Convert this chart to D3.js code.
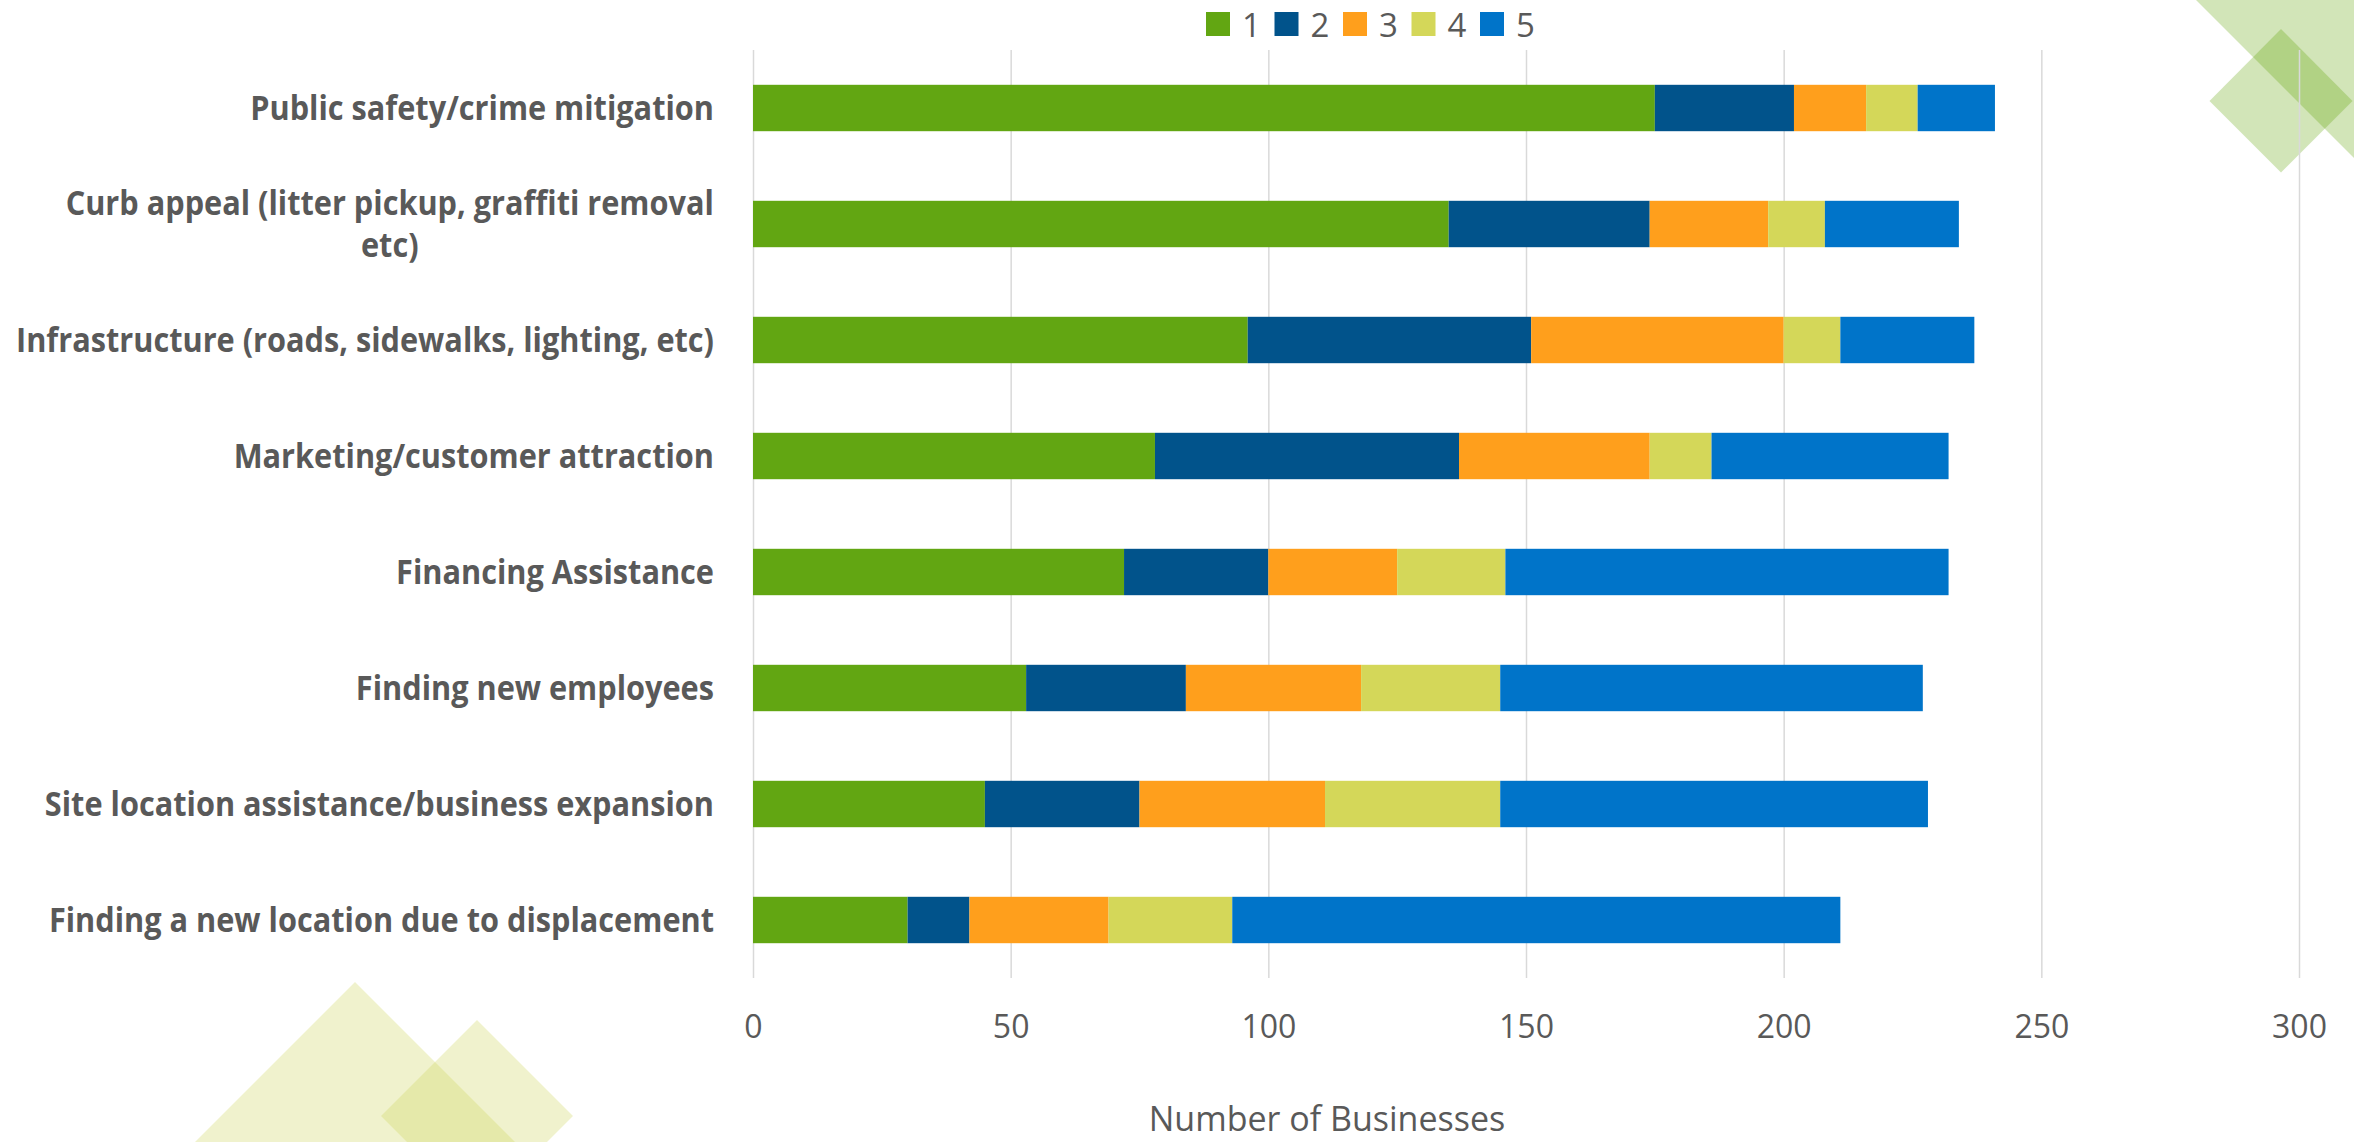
<!DOCTYPE html>
<html>
<head>
<meta charset="utf-8">
<script src="https://cdn.jsdelivr.net/npm/d3@7"></script>
<style>
  html, body { margin: 0; padding: 0; background: #ffffff; }
  svg { display: block; }
  text { font-family: "Open Sans", "Noto Sans", sans-serif; fill: #595959; }
</style>
</head>
<body>
<svg id="chart" width="2354" height="1142"></svg>
<script>
// ---- data ----
const categories = [
  "Public safety/crime mitigation",
  "Curb appeal (litter pickup, graffiti removal etc)",
  "Infrastructure (roads, sidewalks, lighting, etc)",
  "Marketing/customer attraction",
  "Financing Assistance",
  "Finding new employees",
  "Site location assistance/business expansion",
  "Finding a new location due to displacement"
];
const seriesNames = ["1", "2", "3", "4", "5"];
const rank1 = [175, 135, 96, 78, 72, 53, 45, 30];
const rank2 = [27, 39, 55, 59, 28, 31, 30, 12];
const rank3 = [14, 23, 49, 37, 25, 34, 36, 27];
const rank4 = [10, 11, 11, 12, 21, 27, 34, 24];
const rank5 = [15, 26, 26, 46, 86, 82, 83, 118];
const xTicks = [0, 50, 100, 150, 200, 250, 300];
const xTitle = "Number of Businesses";
const colors = ["#62A612", "#01538B", "#FF9F1C", "#D4D759", "#0074C9"];

// ---- build table ----
const seriesValues = [rank1, rank2, rank3, rank4, rank5];
const table = categories.map((c, i) => {
  const row = { category: c };
  seriesNames.forEach((s, j) => row[s] = seriesValues[j][i]);
  return row;
});

const svg = d3.select("#chart");

// ---- decorative shapes ----
const deco = svg.append("g");
deco.append("polygon")
  .attr("points", "2196,0 2420,0 2420,224")
  .attr("fill", "#5CA301").attr("fill-opacity", 0.28);
deco.append("polygon")
  .attr("points", "2281,29 2352.5,101 2281,172.5 2209.5,101")
  .attr("fill", "#5CA301").attr("fill-opacity", 0.28);
deco.append("polygon")
  .attr("points", "355,982 655,1282 355,1582 55,1282")
  .attr("fill", "#CDD458").attr("fill-opacity", 0.3);
deco.append("polygon")
  .attr("points", "477,1020 573,1116 477,1212 381,1116")
  .attr("fill", "#CDD458").attr("fill-opacity", 0.3);

// ---- scales ----
const plotLeft = 753, plotRight = 2299, plotTop = 50, plotBottom = 978;
const x = d3.scaleLinear().domain([0, 300]).range([plotLeft, plotRight]);
const y = d3.scaleBand().domain(categories).range([plotTop, plotBottom])
  .paddingInner(0.6).paddingOuter(0.3);

// ---- gridlines ----
svg.append("g")
  .attr("transform", `translate(0,${plotBottom})`)
  .call(d3.axisBottom(x).tickValues(xTicks).tickSize(-(plotBottom - plotTop)).tickFormat(""))
  .call(g => g.select(".domain").remove())
  .call(g => g.selectAll(".tick line").attr("stroke", "#D9D9D9").attr("stroke-width", 1.5));

// ---- bars ----
const stack = d3.stack().keys(seriesNames);
const stacked = stack(table);
svg.append("g").selectAll("g")
  .data(stacked)
  .join("g")
  .attr("fill", (d, i) => colors[i])
  .selectAll("rect")
  .data(d => d)
  .join("rect")
  .attr("x", d => x(d[0]))
  .attr("width", d => x(d[1]) - x(d[0]))
  .attr("y", d => y(d.data.category))
  .attr("height", y.bandwidth());

// ---- x tick labels ----
const xAxis = svg.append("g")
  .attr("transform", `translate(0,${plotBottom})`)
  .call(d3.axisBottom(x).tickValues(xTicks).tickSize(0).tickPadding(0))
  .call(g => g.select(".domain").remove());
xAxis.selectAll(".tick text")
  .attr("y", 60).attr("dy", null)
  .style("font-size", "32px")
  .style("font-family", "'Open Sans', sans-serif")
  .attr("fill", "#595959");

// ---- x axis title ----
svg.append("text")
  .attr("x", 1327).attr("y", 1131)
  .attr("text-anchor", "middle")
  .style("font-size", "34px")
  .text(xTitle);

// ---- category labels ----
const labelRight = 714;
const labelG = svg.append("g")
  .style("font-size", "34px").style("font-weight", "700");
// horizontal compression factor to mimic the narrow original face
const probe = labelG.append("text").text(categories[0]);
const k = 464 / probe.node().getComputedTextLength();
probe.remove();
const maxWidth = 700 / k;
categories.forEach(cat => {
  const words = cat.split(" ");
  const lines = [];
  let cur = "";
  const tmp = labelG.append("text");
  words.forEach(w => {
    const test = cur ? cur + " " + w : w;
    tmp.text(test);
    if (tmp.node().getComputedTextLength() > maxWidth && cur) {
      lines.push(cur); cur = w;
    } else cur = test;
  });
  lines.push(cur);
  const widths = lines.map(l => { tmp.text(l); return tmp.node().getComputedTextLength(); });
  tmp.remove();
  const wMax = d3.max(widths);
  const cy = y(cat) + y.bandwidth() / 2;
  const lineH = 42;
  const g = labelG.append("g")
    .attr("transform", `translate(${labelRight},${cy}) scale(${k},1)`);
  lines.forEach((l, i) => {
    g.append("text")
      .attr("x", lines.length > 1 ? -wMax / 2 : 0)
      .attr("text-anchor", lines.length > 1 ? "middle" : "end")
      .attr("y", (i - (lines.length - 1) / 2) * lineH)
      .attr("dy", "0.35em")
      .text(l);
  });
});

// ---- legend ----
const legend = svg.append("g").attr("transform", "translate(1206,12)");
const legendStep = 68.5;
seriesNames.forEach((s, i) => {
  const lg = legend.append("g").attr("transform", `translate(${i * legendStep},0)`);
  lg.append("rect").attr("width", 24).attr("height", 24).attr("fill", colors[i]);
  lg.append("text").attr("x", 36).attr("y", 24.5)
    .style("font-size", "33px").text(s);
});
</script>
</body>
</html>
